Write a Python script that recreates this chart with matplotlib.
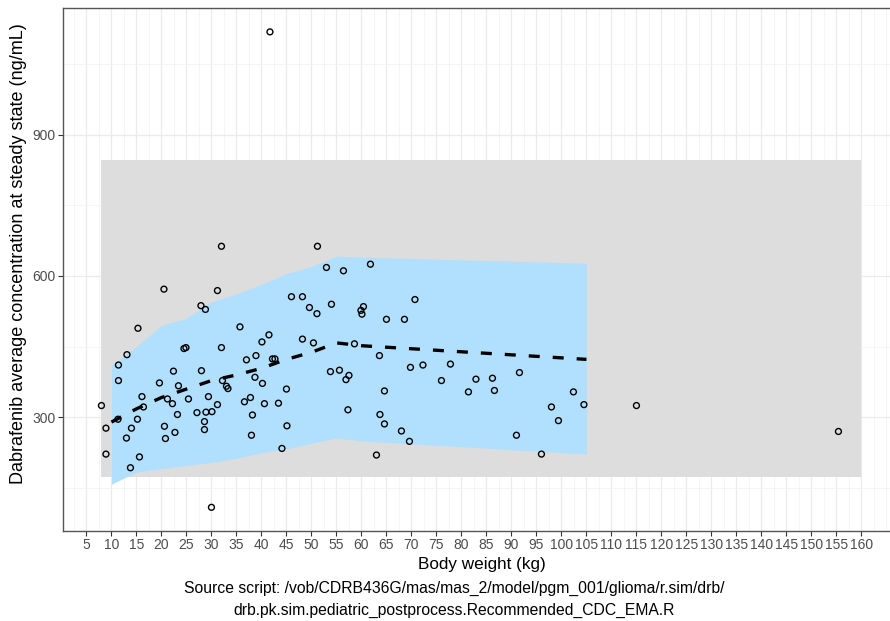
import numpy as np
import matplotlib
matplotlib.use("Agg")
from matplotlib import pyplot as plt
from matplotlib.ticker import MultipleLocator

plt.rcParams['font.family'] = ['Liberation Sans', 'DejaVu Sans']

# observed body weight (kg) and Cavg (ng/mL)
weight = [32.0, 20.5, 31.2, 27.9, 28.8, 15.3, 35.7, 46.0, 48.2, 49.6,
          41.5, 40.1, 48.2, 24.5, 24.9, 32.0, 13.1, 11.4, 38.9, 37.0,
          42.2, 42.7, 11.4, 22.4, 28.0, 19.6, 23.4, 32.2, 33.0, 33.3,
          38.7, 40.2, 45.0, 8.0, 16.1, 21.2, 22.2, 25.4, 29.4, 31.2,
          36.6, 37.8, 40.6, 43.4, 16.4, 11.3, 8.9, 15.2, 23.2, 27.1,
          28.9, 30.1, 38.2, 14.0, 28.6, 20.6, 28.6, 13.0, 20.8, 22.7,
          38.0, 45.1, 44.1, 8.9, 15.6, 13.8, 30.0,
          51.2, 53.0, 56.4, 61.8, 51.1, 54.0, 60.4, 59.9, 60.1,
          70.7, 65.0, 68.6, 50.4, 58.6, 63.6, 53.8, 55.6, 57.5, 56.9,
          69.8, 72.3, 77.8, 76.0, 82.9, 86.2, 81.4, 86.6, 64.6, 57.3,
          63.7, 64.6, 68.0, 69.6, 63.0,
          91.6, 102.4, 98.0, 104.5, 99.4, 91.0, 96.0, 115.0, 155.4,
          41.7]
conc = [663, 572, 569, 537, 529, 489, 492, 556, 556, 533,
        475, 460, 466, 446, 448, 448, 433, 411, 431, 422,
        424, 424, 378, 398, 399, 373, 367, 378, 366, 361,
        385, 372, 360, 325, 344, 339, 329, 339, 344, 327,
        333, 342, 329, 330, 322, 296, 277, 296, 306, 310,
        311, 312, 305, 277, 291, 281, 274, 256, 255, 268,
        262, 282, 234, 222, 216, 193, 109,
        663, 618, 611, 625, 520, 540, 535, 527, 519,
        550, 508, 508, 458, 456, 431, 397, 400, 389, 380,
        406, 411, 413, 378, 381, 383, 354, 357, 356, 316,
        306, 286, 271, 249, 220,
        395, 354, 322, 327, 293, 262, 222, 325, 270,
        1118]

# simulated median and 90% interval by weight
sim_wt = [10, 15, 20, 25, 30, 35, 40, 45, 50, 55, 60, 105]
sim_med = [290, 318, 342, 360, 378, 390, 404, 423, 438, 458, 452, 423]
sim_lo = [158, 184, 191, 198, 204, 213, 225, 233, 245, 256, 250, 222]
sim_hi = [411, 450, 495, 510, 545, 562, 582, 605, 620, 642, 640, 627]

# reference exposure range
ref_wt = [8, 160]
ref_lo = 173
ref_hi = 846

fig = plt.figure(figsize=(8.9, 6.21), dpi=100)
ax = fig.add_axes([0.0713, 0.1454, 0.9393, 0.8412])

ax.set_xlim(0.4, 167.6)
ax.set_ylim(59.4, 1168)

ax.xaxis.set_minor_locator(MultipleLocator(2.5))
ax.set_yticks([300, 600, 900])
ax.yaxis.set_minor_locator(MultipleLocator(150))
ax.set_xticks(np.arange(5, 161, 5))
ax.set_xticklabels([str(v) for v in range(5, 161, 5)])

ax.grid(which='major', color='#EBEBEB', lw=0.9, zorder=0)
ax.grid(which='minor', color='#F2F2F2', lw=0.5, zorder=0)
ax.set_axisbelow(True)
ax.tick_params(which='minor', length=0)
ax.tick_params(which='major', length=3.5, width=0.8, color='#333333',
               labelcolor='#4D4D4D', labelsize=10, pad=2)
for s in ax.spines.values():
    s.set_color('#555555')
    s.set_linewidth(1.0)

ax.fill_between(ref_wt, ref_lo, ref_hi, color='#DDDDDD', lw=0, zorder=1)
ax.fill_between(sim_wt, sim_lo, sim_hi, color='#B0E0FE', lw=0, zorder=2)
ax.plot(sim_wt, sim_med, color='black', lw=2.4, ls=(0, (3.3, 3.9)), zorder=3)
ax.scatter(weight, conc, s=18, facecolors='none', edgecolors='black',
           linewidths=1.0, zorder=4)

ax.set_xlabel("Body weight (kg)", fontsize=12.3, labelpad=3)
fig.text(0.021, 0.591, "Dabrafenib average concentration at steady state (ng/mL)",
         rotation=90, ha='center', va='center', fontsize=13)
fig.text(0.51, 0.053, "Source script: /vob/CDRB436G/mas/mas_2/model/pgm_001/glioma/r.sim/drb/",
         ha='center', va='center', fontsize=11.3)
fig.text(0.51, 0.0177, "drb.pk.sim.pediatric_postprocess.Recommended_CDC_EMA.R",
         ha='center', va='center', fontsize=11.3)

fig.savefig("out.png", dpi=100)
